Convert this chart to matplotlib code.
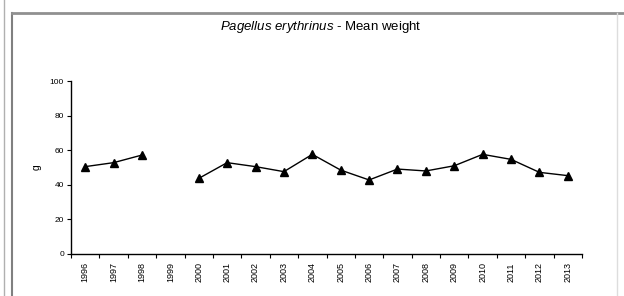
import numpy as np
import matplotlib
matplotlib.use("Agg")
import matplotlib.pyplot as plt
from matplotlib.lines import Line2D

plt.rcParams["font.family"] = ["Liberation Sans", "DejaVu Sans"]
plt.rcParams["mathtext.fontset"] = "custom"
plt.rcParams["mathtext.it"] = "Liberation Sans:italic"
plt.rcParams["mathtext.rm"] = "Liberation Sans"

# Mean weight (g) per year, 1999 has no data
years = ["1996", "1997", "1998", "1999", "2000", "2001", "2002", "2003", "2004",
         "2005", "2006", "2007", "2008", "2009", "2010", "2011", "2012", "2013"]
mean_weight = [50.5, 52.8, 57.2, np.nan, 43.7, 52.8, 50.5, 47.6, 57.6,
               48.5, 42.8, 49.1, 48.0, 51.0, 57.6, 54.7, 47.2, 45.3]
y_ticks = [0, 20, 40, 60, 80, 100]

fig = plt.figure(figsize=(6.24, 2.96), dpi=100)
ax = fig.add_axes([71 / 624, 1 - 254 / 296, (582 - 71) / 624, (254 - 81) / 296])

x = np.arange(len(years))
ax.plot(x, mean_weight, color="black", linewidth=1.0, marker="^",
        markersize=5.5, markerfacecolor="black", markeredgecolor="black")

ax.set_xlim(-0.5, len(years) - 0.5)
ax.set_ylim(0, 100)
ax.set_yticks(y_ticks)
ax.set_yticklabels([str(v) for v in y_ticks], fontsize=6)
ax.tick_params(axis="y", direction="out", length=3, width=0.8, pad=2)

# tick marks between categories, labels at category centres
ax.set_xticks(np.arange(-0.5, len(years), 1.0))
ax.set_xticklabels([])
ax.tick_params(axis="x", which="major", direction="out", length=3, width=0.8)
ax.set_xticks(x, minor=True)
ax.set_xticklabels(years, minor=True, rotation=90, fontsize=6.5)
ax.tick_params(axis="x", which="minor", length=0, pad=6)

for side in ["top", "right"]:
    ax.spines[side].set_visible(False)
for side in ["left", "bottom"]:
    ax.spines[side].set_linewidth(1.0)

ax.set_ylabel("g", fontsize=7.5, rotation=90, labelpad=6)

fig.text(321 / 624, 1 - 27 / 296,
         r"$\it{Pagellus\ erythrinus}$" + " - Mean weight",
         ha="center", va="center", fontsize=9.5)

# frame lines around the chart
fig.add_artist(Line2D([4 / 624, 4 / 624], [0, 1], color="#b0b0b0", linewidth=1.0))
fig.add_artist(Line2D([12 / 624, 12 / 624], [0, 1 - 13 / 296], color="#808080", linewidth=1.5))
fig.add_artist(Line2D([12 / 624, 1], [1 - 13 / 296, 1 - 13 / 296], color="#909090", linewidth=2.0))
fig.add_artist(Line2D([617 / 624, 617 / 624], [0, 1 - 13 / 296], color="#dddddd", linewidth=1.0))

fig.savefig("out.png", dpi=100)
